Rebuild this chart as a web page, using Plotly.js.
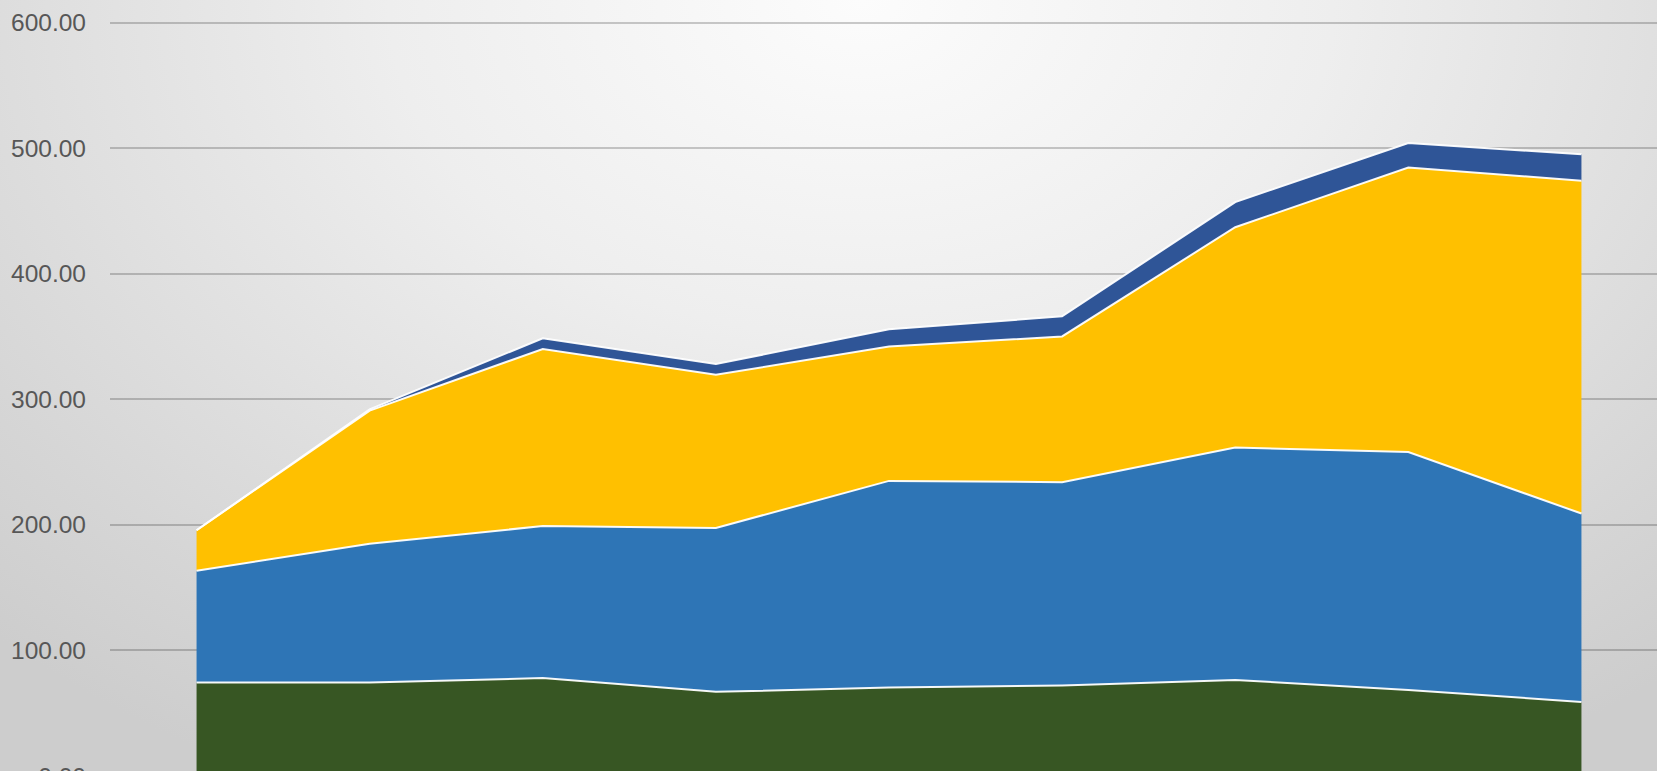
<!DOCTYPE html>
<html>
<head>
<meta charset="utf-8">
<script src="https://cdn.plot.ly/plotly-3.0.1.min.js"></script>
<style>
  html, body { margin: 0; padding: 0; width: 1657px; height: 771px; overflow: hidden; }
  body { background: radial-gradient(ellipse 75% 115% at 52% 0%, #fcfcfc 0%, #eeeeee 38%, #d6d6d6 82%, #cdcdcd 100%); }
  #chart { width: 1680px; height: 800px; }
</style>
</head>
<body>
<div id="chart"></div>
<script>
// Categories (x positions of the 9 data points; axis labels are cropped out of view)
const periods = [1, 2, 3, 4, 5, 6, 7, 8, 9];

// Stacked series values (bottom to top)
const seriesGreen    = [74.5, 74.5, 78, 67, 70.5, 72, 76.5, 68.5, 59];
const seriesBlue     = [89, 110.5, 121, 130.5, 164.5, 162, 185, 189.5, 150];
const seriesYellow   = [32.2, 106, 141, 122, 107, 116, 175.5, 226.5, 265];
const seriesDarkBlue = [0, 1, 8.5, 8.5, 13.8, 16, 20, 19.5, 21];

// Y axis ticks
const yTickValues = [0, 100, 200, 300, 400, 500, 600];
const yTickLabels = ["0.00", "100.00", "200.00", "300.00", "400.00", "500.00", "600.00"];

const seriesList = [
  { name: "Series 1", values: seriesGreen,    color: "#375623" },
  { name: "Series 2", values: seriesBlue,     color: "#2E75B6" },
  { name: "Series 3", values: seriesYellow,   color: "#FFC000" },
  { name: "Series 4", values: seriesDarkBlue, color: "#2F5597" }
];

const traces = seriesList.map(s => ({
  type: "scatter",
  mode: "lines",
  x: periods,
  y: s.values,
  name: s.name,
  stackgroup: "one",
  fillcolor: s.color,
  line: { color: "rgba(255,255,255,0.95)", width: 2, shape: "linear" },
  hoverinfo: "skip"
}));

const layout = {
  width: 1680,
  height: 800,
  margin: { l: 110, r: 12, t: 20, b: 24 },
  paper_bgcolor: "rgba(0,0,0,0)",
  plot_bgcolor: "rgba(0,0,0,0)",
  showlegend: false,
  xaxis: {
    range: [0.5, 9.5],
    showgrid: false,
    zeroline: false,
    showticklabels: false,
    ticks: "",
    showline: false,
    fixedrange: true
  },
  yaxis: {
    range: [0, 602],
    tickvals: yTickValues,
    ticktext: yTickLabels,
    showgrid: true,
    gridcolor: "rgba(0,0,0,0.2)",
    gridwidth: 2,
    zeroline: false,
    showline: false,
    ticks: "",
    ticklabelstandoff: 23,
    tickfont: { family: "Liberation Sans, Arial, sans-serif", size: 24.5, color: "#575757" },
    fixedrange: true
  }
};

Plotly.newPlot("chart", traces, layout, { displayModeBar: false, staticPlot: true });
</script>
</body>
</html>
